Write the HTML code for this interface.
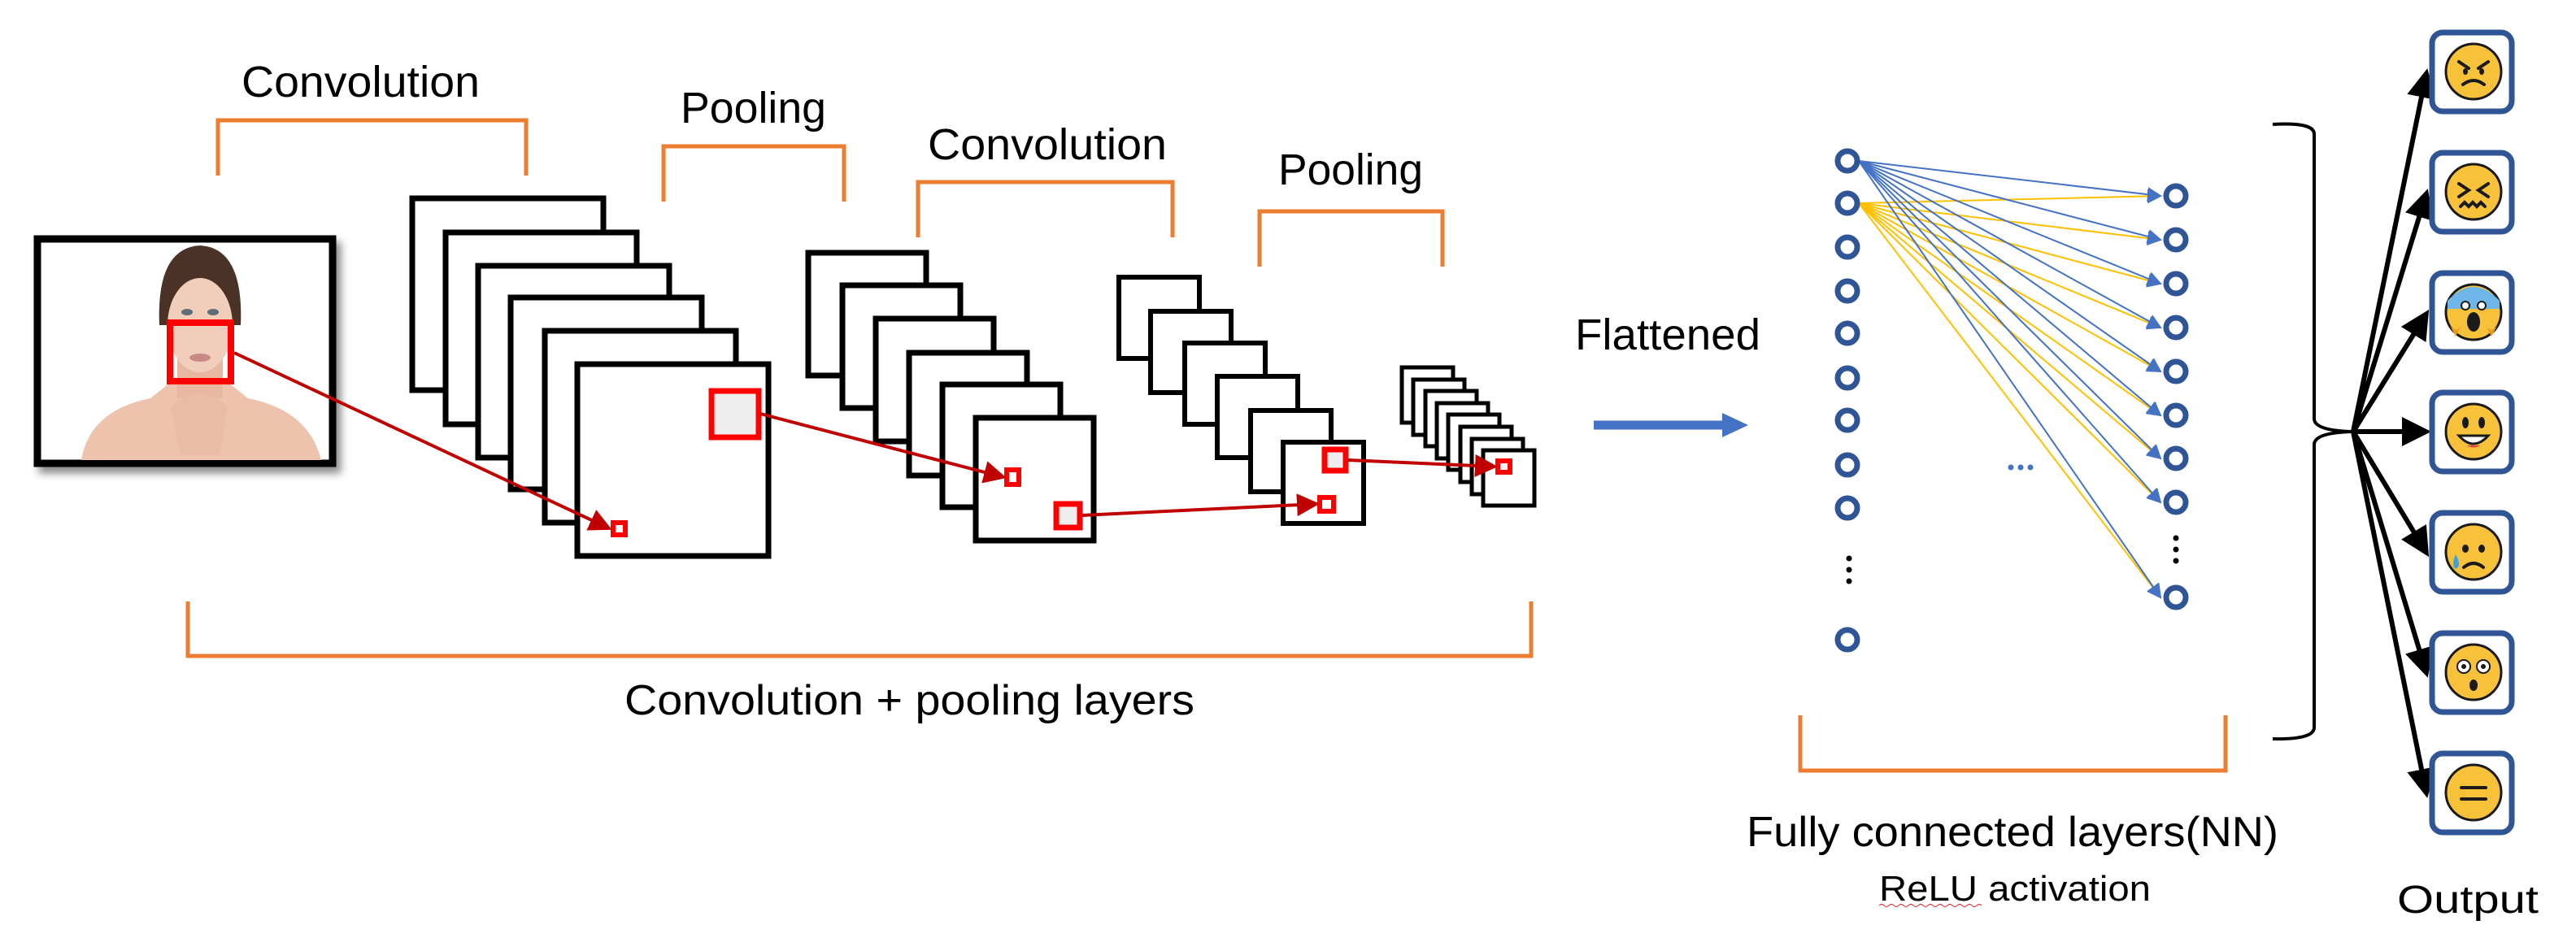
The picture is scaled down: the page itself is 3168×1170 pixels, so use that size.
<!DOCTYPE html>
<html><head><meta charset="utf-8"><style>
html,body{margin:0;padding:0;background:#fff;}
svg{display:block;}
text{font-family:"Liberation Sans",sans-serif;fill:#000;}
</style></head><body>
<svg width="3168" height="1170" viewBox="0 0 3168 1170" xmlns="http://www.w3.org/2000/svg">
<defs>
<marker id="ar" markerWidth="7" markerHeight="7" refX="6" refY="3.5" orient="auto" markerUnits="strokeWidth"><path d="M0,0 L7,3.5 L0,7 z" fill="#C00000"/></marker>
<marker id="ab" markerWidth="9" markerHeight="9" refX="8" refY="4.5" orient="auto" markerUnits="strokeWidth"><path d="M0,0 L9,4.5 L0,9 z" fill="#4472C4"/></marker>
<marker id="ak" markerWidth="6" markerHeight="6" refX="5" refY="3" orient="auto" markerUnits="strokeWidth"><path d="M0,0 L6,3 L0,6 z" fill="#000"/></marker>
<filter id="sh" x="-10%" y="-10%" width="130%" height="130%"><feDropShadow dx="6" dy="8" stdDeviation="5" flood-color="#000" flood-opacity="0.45"/></filter>
</defs>

<text x="297" y="119" font-size="54" textLength="293" lengthAdjust="spacingAndGlyphs">Convolution</text>
<text x="837" y="151" font-size="54" textLength="179" lengthAdjust="spacingAndGlyphs">Pooling</text>
<text x="1141" y="196" font-size="54" textLength="294" lengthAdjust="spacingAndGlyphs">Convolution</text>
<text x="1572" y="227" font-size="54" textLength="178" lengthAdjust="spacingAndGlyphs">Pooling</text>

<g fill="none" stroke="#ED7D31" stroke-width="5">
<path d="M268,216 V148 H647 V216"/>
<path d="M816,248 V180 H1038 V248"/>
<path d="M1129,292 V224 H1442 V292"/>
<path d="M1549,328 V260 H1774 V328"/>
<path d="M231,740 V807 H1883 V740"/>
<path d="M2214,880 V948 H2737 V880"/>
</g>

<g filter="url(#sh)"><rect x="46" y="294" width="363" height="276" fill="#fff" stroke="#000" stroke-width="9"/></g>
<g>
<path d="M196,400 Q192,305 246,302 Q300,305 296,400 Z" fill="#4a3226"/>
<path d="M100,566 Q110,505 185,490 L210,470 L280,470 L305,490 Q380,505 395,566 Z" fill="#edc3ae"/>
<rect x="218" y="430" width="56" height="60" fill="#e8b8a2"/>
<ellipse cx="246" cy="400" rx="40" ry="58" fill="#f1cdbb"/>
<path d="M210,500 Q246,470 280,500 L270,560 L222,560 Z" fill="#e9bca6"/>
<ellipse cx="230" cy="384" rx="7" ry="4" fill="#5c6d7a"/>
<ellipse cx="262" cy="384" rx="7" ry="4" fill="#5c6d7a"/>
<ellipse cx="246" cy="440" rx="13" ry="5" fill="#c98a86"/>
</g>
<rect x="209" y="397" width="75" height="72" fill="none" stroke="#ff0000" stroke-width="8"/>

<g fill="#fff" stroke="#000" stroke-width="7">
<rect x="507" y="244" width="235" height="236"/>
<rect x="548" y="286" width="235" height="236"/>
<rect x="588" y="327" width="235" height="236"/>
<rect x="628" y="366" width="235" height="236"/>
<rect x="670" y="407" width="235" height="236"/>
<rect x="710" y="448" width="235" height="236"/>
</g>
<rect x="875" y="481" width="58" height="57" fill="#eee" stroke="#ff0000" stroke-width="7"/>
<rect x="754" y="643" width="15" height="15" fill="#fff" stroke="#ff0000" stroke-width="6"/>

<g fill="#fff" stroke="#000" stroke-width="7">
<rect x="994" y="311" width="145" height="151"/>
<rect x="1036" y="351" width="145" height="151"/>
<rect x="1077" y="392" width="145" height="151"/>
<rect x="1118" y="434" width="145" height="151"/>
<rect x="1159" y="473" width="145" height="151"/>
<rect x="1200" y="514" width="145" height="151"/>
</g>
<rect x="1238" y="578" width="15" height="18" fill="#fff" stroke="#ff0000" stroke-width="6"/>
<rect x="1299" y="620" width="29" height="29" fill="#eee" stroke="#ff0000" stroke-width="7"/>

<g fill="#fff" stroke="#000" stroke-width="6">
<rect x="1376" y="341" width="99" height="100"/>
<rect x="1415" y="383" width="99" height="100"/>
<rect x="1457" y="422" width="99" height="100"/>
<rect x="1497" y="463" width="99" height="100"/>
<rect x="1538" y="505" width="99" height="100"/>
<rect x="1578" y="544" width="99" height="100"/>
</g>
<rect x="1629" y="553" width="26" height="26" fill="#eee" stroke="#ff0000" stroke-width="7"/>
<rect x="1623" y="612" width="17" height="17" fill="#fff" stroke="#ff0000" stroke-width="6"/>

<g fill="#fff" stroke="#000" stroke-width="5">
<rect x="1724" y="452" width="63" height="68"/>
<rect x="1738" y="467" width="63" height="68"/>
<rect x="1753" y="481" width="63" height="68"/>
<rect x="1767" y="496" width="63" height="68"/>
<rect x="1781" y="510" width="63" height="68"/>
<rect x="1796" y="525" width="63" height="68"/>
<rect x="1810" y="540" width="63" height="68"/>
<rect x="1824" y="554" width="63" height="68"/>
</g>
<rect x="1842" y="567" width="15" height="14" fill="#fff" stroke="#ff0000" stroke-width="6"/>

<g stroke="#C00000" stroke-width="4" fill="none" marker-end="url(#ar)">
<line x1="288" y1="434" x2="749" y2="650"/>
<line x1="935" y1="509" x2="1234" y2="587"/>
<line x1="1331" y1="634" x2="1619" y2="620"/>
<line x1="1658" y1="566" x2="1838" y2="574"/>
</g>

<text x="768" y="879" font-size="52" textLength="701" lengthAdjust="spacingAndGlyphs">Convolution + pooling layers</text>

<text x="1937" y="430" font-size="54" textLength="228" lengthAdjust="spacingAndGlyphs">Flattened</text>
<line x1="1960" y1="523" x2="2122" y2="523" stroke="#4472C4" stroke-width="11"/>
<path d="M2118,508 L2150,523 L2118,538 Z" fill="#4472C4"/>

<g stroke="#FFC000" stroke-width="2" fill="none" marker-end="url(#ab)">
<line x1="2286" y1="250" x2="2657" y2="241"/>
<line x1="2286" y1="250" x2="2657" y2="295"/>
<line x1="2286" y1="250" x2="2657" y2="349"/>
<line x1="2286" y1="250" x2="2657" y2="403"/>
<line x1="2286" y1="250" x2="2657" y2="457"/>
<line x1="2286" y1="250" x2="2657" y2="511"/>
<line x1="2286" y1="250" x2="2657" y2="564"/>
<line x1="2286" y1="250" x2="2657" y2="618"/>
<line x1="2286" y1="250" x2="2657" y2="735"/>
</g>
<g stroke="#4472C4" stroke-width="2" fill="none" marker-end="url(#ab)">
<line x1="2286" y1="198" x2="2657" y2="241"/>
<line x1="2286" y1="198" x2="2657" y2="295"/>
<line x1="2286" y1="198" x2="2657" y2="349"/>
<line x1="2286" y1="198" x2="2657" y2="403"/>
<line x1="2286" y1="198" x2="2657" y2="457"/>
<line x1="2286" y1="198" x2="2657" y2="511"/>
<line x1="2286" y1="198" x2="2657" y2="564"/>
<line x1="2286" y1="198" x2="2657" y2="618"/>
<line x1="2286" y1="198" x2="2657" y2="735"/>
</g>

<g fill="#fff" stroke="#2F5597" stroke-width="7">
<circle cx="2272" cy="198" r="12"/><circle cx="2272" cy="250" r="12"/><circle cx="2272" cy="304" r="12"/>
<circle cx="2272" cy="358" r="12"/><circle cx="2272" cy="410" r="12"/><circle cx="2272" cy="465" r="12"/>
<circle cx="2272" cy="517" r="12"/><circle cx="2272" cy="572" r="12"/><circle cx="2272" cy="625" r="12"/>
<circle cx="2272" cy="787" r="12"/>
<circle cx="2676" cy="241" r="12"/><circle cx="2676" cy="295" r="12"/><circle cx="2676" cy="349" r="12"/>
<circle cx="2676" cy="403" r="12"/><circle cx="2676" cy="457" r="12"/><circle cx="2676" cy="511" r="12"/>
<circle cx="2676" cy="564" r="12"/><circle cx="2676" cy="618" r="12"/>
<circle cx="2676" cy="735" r="12"/>
</g>
<g fill="#000">
<circle cx="2274" cy="687" r="3.5"/><circle cx="2274" cy="701" r="3.5"/><circle cx="2274" cy="715" r="3.5"/>
<circle cx="2676" cy="662" r="3.5"/><circle cx="2676" cy="676" r="3.5"/><circle cx="2676" cy="690" r="3.5"/>
</g>
<g fill="#4472C4">
<circle cx="2473" cy="575" r="3.5"/><circle cx="2485" cy="575" r="3.5"/><circle cx="2497" cy="575" r="3.5"/>
</g>

<text x="2148" y="1041" font-size="52" textLength="654" lengthAdjust="spacingAndGlyphs">Fully connected layers(NN)</text>
<text x="2311" y="1108" font-size="44" textLength="334" lengthAdjust="spacingAndGlyphs">ReLU activation</text>
<path d="M2311,1114 q3,-3 6,0 t6,0 t6,0 t6,0 t6,0 t6,0 t6,0 t6,0 t6,0 t6,0 t6,0 t6,0 t6,0 t6,0 t6,0 t6,0 t6,0 t6,0 t6,0 t6,0 t6,0" fill="none" stroke="#e04040" stroke-width="1.2"/>

<path d="M2795,153 Q2846,150 2846,165 V515 Q2846,530 2894,531 Q2846,532 2846,547 V895 Q2846,910 2795,909" fill="none" stroke="#000" stroke-width="4"/>

<g stroke="#000" stroke-width="6" fill="none" marker-end="url(#ak)">
<line x1="2894" y1="531" x2="2984" y2="90"/>
<line x1="2894" y1="531" x2="2984" y2="238"/>
<line x1="2894" y1="531" x2="2984" y2="386"/>
<line x1="2894" y1="531" x2="2984" y2="531"/>
<line x1="2894" y1="531" x2="2984" y2="680"/>
<line x1="2894" y1="531" x2="2984" y2="828"/>
<line x1="2894" y1="531" x2="2984" y2="976"/>
</g>

<g fill="#fff" stroke="#2F5597" stroke-width="7">
<rect x="2991" y="40" width="98" height="97" rx="13"/>
<rect x="2991" y="188" width="98" height="97" rx="13"/>
<rect x="2991" y="336" width="98" height="97" rx="13"/>
<rect x="2991" y="483" width="98" height="97" rx="13"/>
<rect x="2991" y="631" width="98" height="97" rx="13"/>
<rect x="2991" y="779" width="98" height="97" rx="13"/>
<rect x="2991" y="927" width="98" height="97" rx="13"/>
</g>
<g fill="#F8C13A" stroke="#1a1a1a" stroke-width="3">
<circle cx="3042" cy="88" r="34"/>
<circle cx="3042" cy="236" r="34"/>
<circle cx="3042" cy="384" r="34"/>
<circle cx="3042" cy="531" r="34"/>
<circle cx="3042" cy="679" r="34"/>
<circle cx="3042" cy="827" r="34"/>
<circle cx="3042" cy="975" r="34"/>
</g>
<g fill="none" stroke="#1a1a1a" stroke-width="4" stroke-linecap="round">
<path d="M3024,76 L3036,84 M3060,76 L3048,84 M3029,104 Q3042,94 3055,104"/>
<path d="M3024,226 L3036,234 L3024,242 M3060,226 L3048,234 L3060,242 M3026,254 l5,-5 l5,5 l5,-5 l5,5 l5,-5 l5,5"/>
<path d="M3027,969 L3057,969 M3027,983 L3057,983"/>
<path d="M3030,698 Q3042,688 3054,698"/>
</g>
<path d="M3010,370 Q3042,336 3074,370 L3074,380 L3010,380 Z" fill="#6fb6e8"/>
<ellipse cx="3042" cy="396" rx="8" ry="12" fill="#1a1a1a"/>
<circle cx="3032" cy="376" r="5" fill="#fff" stroke="#1a1a1a" stroke-width="2"/>
<circle cx="3052" cy="376" r="5" fill="#fff" stroke="#1a1a1a" stroke-width="2"/>
<path d="M3010,395 Q3018,412 3026,402 L3020,414 Z M3074,395 Q3066,412 3058,402 L3064,414 Z" fill="#e89a1a"/>
<ellipse cx="3032" cy="520" rx="4" ry="7" fill="#1a1a1a"/>
<ellipse cx="3052" cy="520" rx="4" ry="7" fill="#1a1a1a"/>
<path d="M3024,536 Q3042,556 3060,536 Z" fill="#fff" stroke="#1a1a1a" stroke-width="3"/>
<path d="M3034,548 Q3042,553 3050,548" fill="#e0404a"/>
<ellipse cx="3032" cy="675" rx="4" ry="5" fill="#1a1a1a"/>
<ellipse cx="3052" cy="675" rx="4" ry="5" fill="#1a1a1a"/>
<path d="M3020,682 Q3014,696 3020,700 Q3028,696 3020,682 Z" fill="#3aa0e0"/>
<circle cx="3030" cy="820" r="8" fill="#fff" stroke="#1a1a1a" stroke-width="2"/>
<circle cx="3054" cy="820" r="8" fill="#fff" stroke="#1a1a1a" stroke-width="2"/>
<circle cx="3030" cy="820" r="3" fill="#1a1a1a"/><circle cx="3054" cy="820" r="3" fill="#1a1a1a"/>
<ellipse cx="3042" cy="843" rx="5" ry="7" fill="#1a1a1a"/>
<ellipse cx="3032" cy="88" rx="3" ry="4" fill="#1a1a1a"/><ellipse cx="3052" cy="88" rx="3" ry="4" fill="#1a1a1a"/>

<text x="2948" y="1123" font-size="48" textLength="174" lengthAdjust="spacingAndGlyphs">Output</text>
</svg>
</body></html>
